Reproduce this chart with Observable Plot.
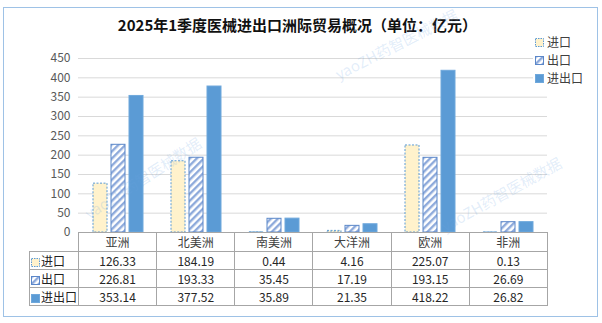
<!DOCTYPE html>
<html><head><meta charset="utf-8">
<script src="https://cdn.jsdelivr.net/npm/d3@7"></script>
<script src="https://cdn.jsdelivr.net/npm/@observablehq/plot@0.6"></script>
<style>
body{margin:0;background:#fff;font-family:"Noto Sans CJK SC","Noto Sans",sans-serif;}
#wrap{position:relative;width:602px;height:323px;overflow:hidden;background:#fff;}
#frame{position:absolute;left:3px;top:7px;width:593px;height:308px;border:1px solid #9ec2e6;box-sizing:content-box;}
#title{position:absolute;left:0;top:15px;width:595px;text-align:center;font-weight:bold;font-size:15px;line-height:20px;color:#111;}
#chart{position:absolute;left:0;top:0;}
#legend{position:absolute;left:533px;top:33px;width:56px;background:#fff;padding:0 0 2px 2px;}
#legend div{height:18px;line-height:18px;font-size:12px;color:#404040;display:flex;align-items:center;}
#legend svg{margin-right:3px;}
#tbl{position:absolute;left:29px;top:232px;border-collapse:collapse;table-layout:fixed;}
#tbl td{border:1px solid #a6a6a6;padding:0;height:17px;line-height:17px;text-align:center;font-size:12px;color:#262626;white-space:nowrap;overflow:hidden;}
#tbl tr.head td{height:18px;line-height:18px;color:#404040;}
#tbl td.corner{border-top:none;border-left:none;}
#tbl td.lab{text-align:left;padding-left:1px;color:#222;}
#tbl td.lab svg{vertical-align:-1px;margin-right:1px;}
.wm{position:absolute;white-space:nowrap;font-size:15px;color:rgba(110,165,225,0.2);transform-origin:0 50%;font-family:"Noto Sans CJK SC",sans-serif;pointer-events:none;}
</style></head><body>
<svg width="0" height="0" style="position:absolute">
  <defs>
    <pattern id="hatch" patternUnits="userSpaceOnUse" width="5" height="5" patternTransform="rotate(45)">
      <rect width="5" height="5" fill="#ffffff"></rect>
      <rect width="2.4" height="5" fill="#8eaadb"></rect>
    </pattern>
  </defs>
</svg>
<div id="wrap">
  <div id="frame"></div>
  <div id="title">2025年1季度医械进出口洲际贸易概况（单位：亿元）</div>
</div>
<script>
const continents = ["亚洲", "北美洲", "南美洲", "大洋洲", "欧洲", "非洲"];
const seriesNames = ["进口", "出口", "进出口"];
const importVals = [126.33, 184.19, 0.44, 4.16, 225.07, 0.13];
const exportVals = [226.81, 193.33, 35.45, 17.19, 193.15, 26.69];
const totalVals  = [353.14, 377.52, 35.89, 21.35, 418.22, 26.82];
const yTicks = [0, 50, 100, 150, 200, 250, 300, 350, 400, 450];
const watermark = "yaoZH药智医械数据";

const styles = {
  "进口":  {fill: "#fff2cc", stroke: "#5b9bd5", strokeDasharray: "2,1.5", dx: -18},
  "出口":  {fill: "url(#hatch)", stroke: "#5b87c9", dx: 0},
  "进出口": {fill: "#5b9bd5", stroke: "#6fa8dc", dx: 18}
};
const valuesBySeries = {"进口": importVals, "出口": exportVals, "进出口": totalVals};

const W = 602, mL = 78, mR = 55;
const colW = (W - mL - mR) / continents.length;
const barW = 14;
const padIn = 1 - barW / colW;

const rows = s => continents.map((c, i) => ({c, v: valuesBySeries[s][i]}));

const chart = Plot.plot({
  width: W, height: 240,
  marginTop: 58, marginBottom: 8, marginLeft: mL, marginRight: mR,
  style: {background: "transparent", fontFamily: "'Noto Sans CJK SC', sans-serif", overflow: "visible"},
  x: {domain: continents, paddingInner: padIn, paddingOuter: padIn / 2, axis: null},
  y: {domain: [0, 450]},
  marks: [
    Plot.gridY(yTicks, {stroke: "#d9d9d9", strokeOpacity: 1, strokeWidth: 1}),
    Plot.axisY(yTicks, {tickSize: 0, tickPadding: 8, label: null, fontSize: 12, fill: "#595959"}),
    ...seriesNames.map(s => Plot.barY(rows(s), {x: "c", y: "v", ...styles[s], strokeWidth: 1}))
  ]
});
chart.id = "chart";
const wrap = document.getElementById("wrap");
wrap.appendChild(chart);

function swatch(s) {
  const st = styles[s];
  return `<svg width="9" height="9"><rect x="0.5" y="0.5" width="8" height="8" fill="${st.fill}" stroke="${st.stroke}" stroke-width="1" ${st.strokeDasharray ? `stroke-dasharray="1.5,1"` : ""}></rect></svg>`;
}

// legend
const legend = document.createElement("div");
legend.id = "legend";
legend.innerHTML = seriesNames.map(s => `<div>${swatch(s)}<span>${s}</span></div>`).join("");
wrap.appendChild(legend);

// data table
const tbl = document.createElement("table");
tbl.id = "tbl";
let html = `<colgroup><col style="width:49px">` + continents.map(() => `<col style="width:${colW}px">`).join("") + `</colgroup>`;
html += `<tr class="head"><td class="corner"></td>` + continents.map(c => `<td>${c}</td>`).join("") + `</tr>`;
seriesNames.forEach(s => {
  html += `<tr><td class="lab">${swatch(s)}${s}</td>` + valuesBySeries[s].map(v => `<td>${v.toFixed(2)}</td>`).join("") + `</tr>`;
});
tbl.innerHTML = html;
wrap.appendChild(tbl);

// watermarks (faint, fully inside the frame)
const wms = [
  {x: 336, y: 74, a: -27},
  {x: 86, y: 214, a: -33},
  {x: 442, y: 226, a: -29}
];
wms.forEach(w => {
  const d = document.createElement("div");
  d.className = "wm";
  d.textContent = watermark;
  d.style.left = w.x + "px";
  d.style.top = (w.y - 10) + "px";
  d.style.transform = `rotate(${w.a}deg)`;
  wrap.appendChild(d);
});
</script>
</body></html>
